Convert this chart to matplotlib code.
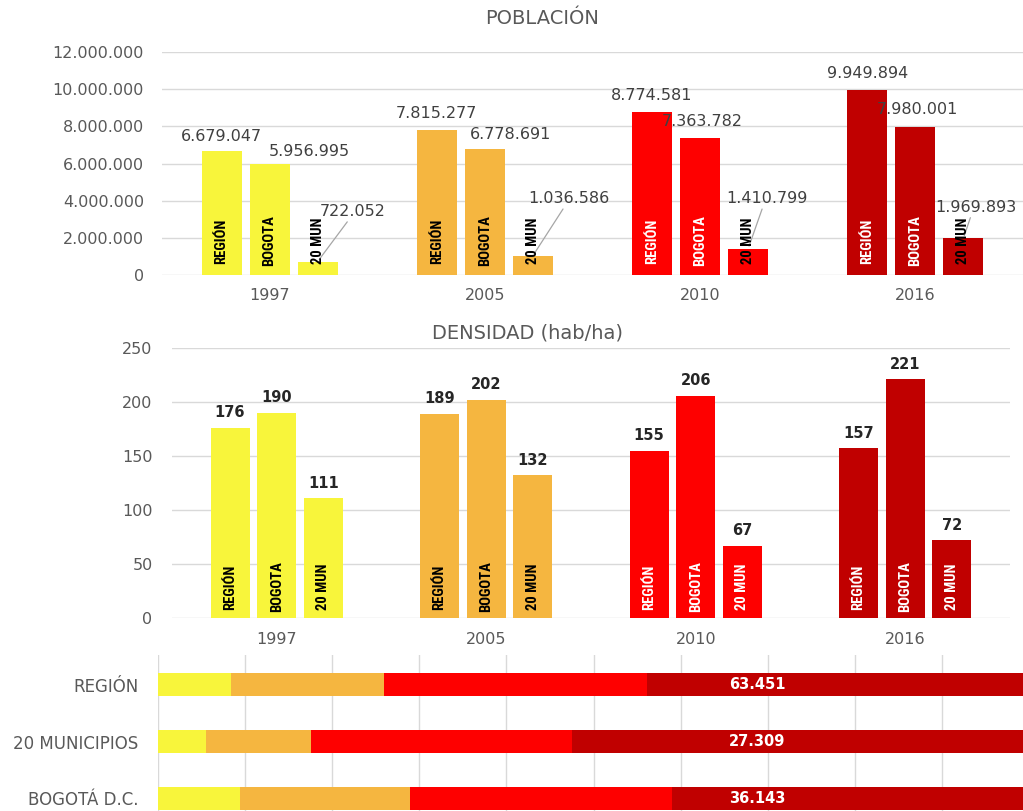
import matplotlib
matplotlib.use('Agg')
import matplotlib.pyplot as plt
import matplotlib.transforms as mtransforms
from matplotlib import font_manager
import numpy as np

# data
years = ['1997', '2005', '2010', '2016']
groups = ['REGIÓN', 'BOGOTA', '20 MUN']

pop_region = [6679047, 7815277, 8774581, 9949894]
pop_bogota = [5956995, 6778691, 7363782, 7980001]
pop_20mun = [722052, 1036586, 1410799, 1969893]

dens_region = [176, 189, 155, 157]
dens_bogota = [190, 202, 206, 221]
dens_20mun = [111, 132, 67, 72]

area_rows = ['REGIÓN', '20 MUNICIPIOS', 'BOGOTÁ D.C.']
# segment lengths in gridline units (the 2016 segment runs off the picture)
area_1997 = [0.84, 0.55, 0.94]
area_2005 = [1.75, 1.21, 1.95]
area_2010 = [3.02, 2.99, 3.01]
area_2016 = [6.0, 6.0, 6.0]
area_2016_labels = ['63.451', '27.309', '36.143']

year_colors = ['#F8F53B', '#F5B640', '#FE0000', '#C00000']
GRID = '#D9D9D9'
TXT = '#595959'

# narrow face for the labels written inside the bars
installed = {f.name for f in font_manager.fontManager.ttflist}
NARROW = 'DejaVu Sans'
for cand in ['Liberation Sans Narrow', 'DejaVu Sans Condensed', 'Roboto Condensed',
             'Open Sans Condensed', 'Roboto']:
    if cand in installed:
        NARROW = cand
        break
inner_size = 10.5 if NARROW in ('Liberation Sans Narrow', 'Roboto Condensed',
                                'Open Sans Condensed') else 8.5

W, H = 1023, 811
fig = plt.figure(figsize=(W / 100, H / 100), dpi=100)
PX = 0.72  # points per pixel at 100 dpi


def px_axes(left, top, right, bottom):
    return fig.add_axes([left / W, 1 - bottom / H, (right - left) / W, (bottom - top) / H])


def fmt(v):
    return f'{v:,}'.replace(',', '.')


def style_axes(ax):
    for s in ax.spines.values():
        s.set_visible(False)
    ax.set_axisbelow(True)
    ax.yaxis.grid(True, color=GRID, lw=1)
    ax.tick_params(length=0, colors=TXT, labelsize=11.5)


x = np.arange(len(years))
offsets = [-0.223, 0.0, 0.223]
bw = 0.186

# ---------------- POBLACIÓN ----------------
ax1 = px_axes(162, 52, 1023, 275)
style_axes(ax1)
pop_series = [pop_region, pop_bogota, pop_20mun]
# label offsets (pixels, to label centre, from top of bar)
pop_dx = [[0, 0, 0, 0], [40, 26, 2, 2], [35, 36, 19, 12]]
pop_dy = [[14, 16, 16, 17], [13, 15, 17, 17], [50, 57, 50, 31]]
for s, vals in enumerate(pop_series):
    xs = x + offsets[s]
    ax1.bar(xs, vals, bw, color=year_colors, zorder=2)
    for j, v in enumerate(vals):
        if s == 2:
            ax1.annotate(fmt(v), xy=(xs[j], v), xytext=(pop_dx[s][j] * PX, pop_dy[s][j] * PX),
                         textcoords='offset points', ha='center', va='center', fontsize=11.5,
                         color='#404040', zorder=4,
                         arrowprops=dict(arrowstyle='-', color='#A6A6A6', lw=0.9,
                                         relpos=(0.45, 0.0), shrinkA=0, shrinkB=2))
        else:
            ax1.annotate(fmt(v), xy=(xs[j], v), xytext=(pop_dx[s][j] * PX, pop_dy[s][j] * PX),
                         textcoords='offset points', ha='center', va='center', fontsize=11.5,
                         color='#404040', zorder=4)
        inner = 'white' if (j >= 2 and s < 2) else 'black'
        ax1.annotate(groups[s], xy=(xs[j], 0), xytext=(0, 34 * PX), textcoords='offset points',
                     rotation=90, ha='center', va='center', fontsize=inner_size,
                     fontweight='bold', family=NARROW, color=inner, zorder=5)
ax1.set_xlim(-0.5, 3.5)
ax1.set_ylim(0, 12000000)
ax1.set_yticks(np.arange(0, 12000001, 2000000))
ax1.set_yticklabels([fmt(v) for v in range(0, 12000001, 2000000)])
ax1.set_xticks(x)
ax1.set_xticklabels(years)
ax1.tick_params(axis='y', pad=13)
ax1.tick_params(axis='x', pad=9)
fig.text(542 / W, 1 - 18 / H, 'POBLACIÓN', ha='center', va='center', fontsize=14, color=TXT)

# ---------------- DENSIDAD ----------------
ax2 = px_axes(172, 348, 1010, 618)
style_axes(ax2)
dens_series = [dens_region, dens_bogota, dens_20mun]
for s, vals in enumerate(dens_series):
    xs = x + offsets[s]
    ax2.bar(xs, vals, bw, color=year_colors, zorder=2)
    for j, v in enumerate(vals):
        ax2.annotate(str(v), xy=(xs[j], v), xytext=(0, 15 * PX), textcoords='offset points',
                     ha='center', va='center', fontsize=10.5, fontweight='bold', color='#262626')
        inner = 'white' if j >= 2 else 'black'
        ax2.annotate(groups[s], xy=(xs[j], 0), xytext=(0, 31 * PX), textcoords='offset points',
                     rotation=90, ha='center', va='center', fontsize=inner_size,
                     fontweight='bold', family=NARROW, color=inner, zorder=5)
ax2.set_xlim(-0.5, 3.5)
ax2.set_ylim(0, 250)
ax2.set_yticks(range(0, 251, 50))
ax2.set_xticks(x)
ax2.set_xticklabels(years)
ax2.tick_params(axis='y', pad=14)
ax2.tick_params(axis='x', pad=10)
fig.text(527 / W, 1 - 333 / H, 'DENSIDAD (hab/ha)', ha='center', va='center', fontsize=14,
         color=TXT)

# ---------------- área (stacked bars, cropped) ----------------
ax3 = px_axes(158, 655, 1023, 811)
for sp in ax3.spines.values():
    sp.set_visible(False)
ax3.set_axisbelow(True)
ax3.xaxis.grid(True, color=GRID, lw=1)
rows = np.arange(len(area_rows))
left = np.zeros(len(area_rows))
for seg, col in zip([area_1997, area_2005, area_2010, area_2016], year_colors):
    ax3.barh(rows, seg, 0.41, left=left, color=col, zorder=2)
    left = left + np.array(seg)
trans = mtransforms.blended_transform_factory(ax3.transAxes, ax3.transData)
for i, lab in enumerate(area_2016_labels):
    ax3.text(0.6925, rows[i], lab, transform=trans, ha='center', va='center', fontsize=10.5,
             fontweight='bold', color='white', zorder=4)
ax3.set_xlim(0, 9.93)
ax3.set_xticks(np.arange(0, 10))
ax3.set_ylim(2.22, -0.52)
ax3.set_yticks(rows)
ax3.set_yticklabels(area_rows)
ax3.tick_params(length=0, colors=TXT, labelsize=12, labelbottom=False)
ax3.tick_params(axis='y', pad=14)

fig.savefig('out.png', dpi=100)
